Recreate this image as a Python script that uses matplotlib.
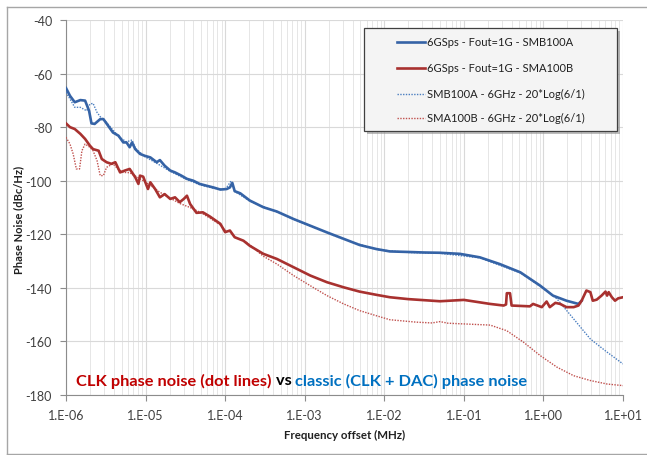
import numpy as np
import matplotlib
matplotlib.use("Agg")
import matplotlib.pyplot as plt
from matplotlib.lines import Line2D
from matplotlib.patches import Rectangle
from matplotlib.ticker import FixedLocator, LogLocator, NullFormatter

plt.rcParams["font.family"] = ["Lato", "DejaVu Sans"]

# ---------------- data (log10 of offset in MHz, dBc/Hz) ----------------
smb_meas_lf = [-6.00, -5.95, -5.89, -5.82, -5.76, -5.71, -5.68, -5.64, -5.57, -5.53,
               -5.47, -5.41, -5.34, -5.28, -5.24, -5.20, -5.17, -5.13, -5.07, -5.01,
               -4.94, -4.86, -4.82, -4.76, -4.69, -4.63, -4.55, -4.48, -4.40, -4.32,
               -4.23, -4.15, -4.06, -3.98, -3.94, -3.91, -3.88, -3.81, -3.69, -3.52,
               -3.35, -3.14, -2.93, -2.72, -2.51, -2.31, -2.10, -1.93, -1.70, -1.50,
               -1.30, -1.05, -0.80, -0.55, -0.29, -0.04, 0.12, 0.29, 0.44, 0.48]
smb_meas_db = [-65.4, -68.3, -70.7, -69.9, -70.1, -73.9, -78.6, -78.8, -77.0, -77.0,
               -79.5, -82.0, -83.2, -85.7, -85.7, -87.5, -85.7, -88.2, -90.0, -90.7,
               -91.3, -93.1, -92.3, -94.4, -96.2, -96.9, -98.1, -99.3, -100.0, -101.2,
               -101.9, -102.5, -103.3, -103.1, -102.5, -100.8, -103.9, -104.7, -107.4, -109.9,
               -111.5, -114.3, -116.8, -119.3, -121.7, -124.0, -125.5, -126.4, -126.6, -126.8,
               -126.9, -127.3, -128.6, -131.1, -134.2, -139.2, -142.9, -144.8, -146.0, -144.8]

sma_meas_lf = [-6.00, -5.95, -5.89, -5.82, -5.76, -5.70, -5.66, -5.59, -5.55, -5.49,
               -5.43, -5.38, -5.32, -5.26, -5.20, -5.13, -5.09, -5.07, -5.03, -4.97,
               -4.94, -4.88, -4.82, -4.76, -4.69, -4.63, -4.57, -4.52, -4.48, -4.44,
               -4.36, -4.28, -4.19, -4.06, -4.00, -3.94, -3.88, -3.77, -3.69, -3.52,
               -3.35, -3.14, -2.93, -2.72, -2.51, -2.31, -2.10, -1.93, -1.70, -1.50,
               -1.30, -1.00, -0.67, -0.50, -0.47, -0.46, -0.42, -0.40, -0.17, -0.13,
               -0.02, 0.04, 0.08, 0.15, 0.21, 0.29, 0.38, 0.44, 0.48, 0.54,
               0.59, 0.62, 0.67, 0.73, 0.78, 0.80, 0.82, 0.86, 0.90, 0.94, 1.00]
sma_meas_db = [-78.6, -80.0, -80.7, -82.5, -84.4, -86.9, -88.2, -88.8, -91.9, -93.1,
               -93.7, -93.1, -96.9, -96.2, -95.6, -98.7, -101.2, -98.1, -98.5, -103.1,
               -100.6, -103.1, -106.2, -105.0, -106.8, -106.2, -108.0, -106.8, -105.6, -108.7,
               -112.0, -111.8, -113.4, -116.1, -119.2, -118.6, -121.1, -122.4, -124.3, -127.3,
               -129.2, -132.3, -135.4, -137.9, -139.8, -141.4, -142.6, -143.5, -144.2, -144.6,
               -145.0, -144.5, -146.0, -146.6, -146.2, -142.0, -142.0, -146.6, -146.9, -146.0,
               -147.2, -145.1, -147.2, -145.6, -146.0, -147.2, -147.2, -146.6, -144.8, -141.0,
               -141.6, -144.8, -144.4, -142.9, -141.4, -142.9, -141.6, -143.5, -144.8, -143.9, -143.5]

smb_clk_lf = [-6.00, -5.95, -5.89, -5.82, -5.74, -5.70, -5.66, -5.61, -5.57, -5.49,
              -5.43, -5.34, -5.24, -5.17, -5.13, -5.01, -4.86, -4.69, -4.48, -4.32,
              -4.15, -4.00, -3.93, -3.88, -3.69, -3.35, -2.93, -2.51, -2.10, -1.70,
              -1.30, -0.80, -0.29, -0.04, 0.17, 0.38, 0.59, 0.80, 1.00]
smb_clk_db = [-67.0, -69.5, -72.6, -72.6, -73.9, -71.4, -71.1, -74.5, -76.1, -78.2,
              -80.4, -83.5, -85.5, -84.8, -87.8, -91.0, -93.5, -96.5, -99.6, -101.5,
              -102.8, -103.3, -100.3, -104.0, -107.6, -111.7, -117.0, -121.9, -125.7, -126.8,
              -127.1, -128.8, -134.4, -139.4, -144.1, -151.6, -159.1, -164.0, -168.4]

sma_clk_lf = [-6.00, -5.95, -5.91, -5.87, -5.83, -5.80, -5.76, -5.70, -5.66, -5.61,
              -5.57, -5.53, -5.49, -5.41, -5.35, -5.28, -5.20, -5.07, -4.95, -4.82,
              -4.69, -4.57, -4.44, -4.30, -4.19, -4.06, -4.00, -3.94, -3.88, -3.73,
              -3.52, -3.35, -3.14, -2.93, -2.72, -2.51, -2.31, -2.10, -1.93, -1.60,
              -1.40, -1.30, -1.20, -1.05, -0.67, -0.46, -0.25, -0.04, 0.17, 0.38,
              0.59, 0.80, 1.00]
sma_clk_db = [-83.8, -86.3, -90.0, -95.6, -95.6, -88.8, -86.3, -87.5, -88.8, -92.5,
              -98.1, -98.1, -95.0, -93.7, -95.5, -96.9, -97.0, -99.3, -101.5, -104.3,
              -106.5, -108.5, -110.0, -112.0, -114.0, -116.5, -118.5, -119.0, -121.0, -123.0,
              -128.2, -131.1, -135.4, -139.2, -142.9, -146.0, -148.5, -150.4, -151.9, -152.8,
              -153.1, -152.6, -153.2, -153.4, -153.9, -156.0, -160.3, -165.3, -169.6, -172.8,
              -174.6, -175.9, -176.5]

labels = ["6GSps - Fout=1G - SMB100A", "6GSps - Fout=1G - SMA100B",
          "SMB100A - 6GHz - 20*Log(6/1)", "SMA100B - 6GHz - 20*Log(6/1)"]
xtick_labels = ["1.E-06", "1.E-05", "1.E-04", "1.E-03", "1.E-02", "1.E-01", "1.E+00", "1.E+01"]
yticks = [-40, -60, -80, -100, -120, -140, -160, -180]

BLUE = "#3563A6"
RED = "#A8312F"
BLUE_DOT = "#4A7EC0"
RED_DOT = "#C0504D"

# ---------------- figure ----------------
W, H = 647, 456
fig = plt.figure(figsize=(W / 100, H / 100), dpi=100)
ax = fig.add_axes([66 / W, 1 - 396 / H, (623 - 66) / W, (396 - 21) / H])

ax.plot(10 ** np.array(smb_clk_lf), smb_clk_db, color=BLUE_DOT, lw=1.0, ls=(0, (1, 1)), zorder=3)
ax.plot(10 ** np.array(sma_clk_lf), sma_clk_db, color=RED_DOT, lw=1.0, ls=(0, (1, 1)), zorder=3)
ax.plot(10 ** np.array(smb_meas_lf), smb_meas_db, color=BLUE, lw=1.9, zorder=4)
ax.plot(10 ** np.array(sma_meas_lf), sma_meas_db, color=RED, lw=1.9, zorder=5)

ax.set_xscale("log")
ax.set_xlim(1e-6, 1e1)
ax.set_ylim(-180, -40)
ax.xaxis.set_major_locator(FixedLocator([10.0 ** k for k in range(-6, 2)]))
ax.set_xticklabels(xtick_labels)
ax.xaxis.set_minor_locator(LogLocator(base=10, subs=np.arange(2, 10), numticks=100))
ax.xaxis.set_minor_formatter(NullFormatter())
ax.set_yticks(yticks)
ax.set_yticklabels([str(v) for v in yticks])

ax.grid(True, which="major", color="#D9D9D9", lw=0.8)
ax.grid(True, which="minor", axis="x", color="#E6E6E6", lw=0.7)
ax.set_axisbelow(True)

for s in ["top", "right"]:
    ax.spines[s].set_visible(False)
ax.spines["left"].set_color("#8C8C8C")
ax.spines["bottom"].set_color("#8C8C8C")
ax.tick_params(axis="both", which="major", labelsize=9, colors="#404040", length=4,
               color="#8C8C8C", pad=6)
ax.tick_params(axis="x", which="minor", length=0)

ax.set_ylabel("Phase Noise (dBc/Hz)", fontsize=8, fontweight="bold", color="#202020", labelpad=4)
ax.yaxis.set_label_coords(-0.075, 0.47)
ax.set_xlabel("Frequency offset (MHz)", fontsize=8.3, fontweight="bold", color="#202020", labelpad=6)

# outer chart border
fig.add_artist(Line2D([7 / W, 7 / W], [1 - 8 / H, 1 - 455 / H], color="#A6A6A6", lw=1))
fig.add_artist(Line2D([7 / W, 1], [1 - 8 / H, 1 - 8 / H], color="#A6A6A6", lw=1))
fig.add_artist(Line2D([7 / W, 1], [1 - 455 / H, 1 - 455 / H], color="#A6A6A6", lw=1))

# legend box with shadow (drawn by hand, Excel style)
bx0, by0, bx1, by1 = 364, 29, 617, 132
fig.add_artist(Rectangle((bx0 / W + 3 / W, 1 - (by1 + 3) / H), (bx1 - bx0) / W, (by1 - by0) / H,
                         facecolor="#909090", edgecolor="none", alpha=0.6, zorder=8))
fig.add_artist(Rectangle((bx0 / W, 1 - by1 / H), (bx1 - bx0) / W, (by1 - by0) / H,
                         facecolor="#F4F4F4", edgecolor="#404040", lw=0.9, zorder=9))
styles = [(BLUE, 1.9, "-"), (RED, 1.9, "-"), (BLUE_DOT, 1.0, (0, (1, 1))), (RED_DOT, 1.0, (0, (1, 1)))]
rows = [42.5, 69.0, 94.5, 118.5]
for (c, lw, ls), lab, yy in zip(styles, labels, rows):
    fig.add_artist(Line2D([397 / W, 425 / W], [1 - yy / H, 1 - yy / H], color=c, lw=lw, ls=ls, zorder=10))
    fig.text(427 / W, 1 - yy / H, lab, fontsize=8, color="#202020", va="center", ha="left", zorder=10)

# coloured annotation
fig.canvas.draw()
renderer = fig.canvas.get_renderer()
x = 76
for part, col in [("CLK phase noise (dot lines)", "#C00000"), (" vs ", "#000000"),
                  ("classic (CLK + DAC) phase noise", "#0070C0")]:
    t = fig.text(x / W, 1 - 381 / H, part, fontsize=11.8, fontweight="bold", color=col,
                 va="center", ha="left")
    x += t.get_window_extent(renderer).width

fig.savefig("out.png", dpi=100, facecolor="white")
